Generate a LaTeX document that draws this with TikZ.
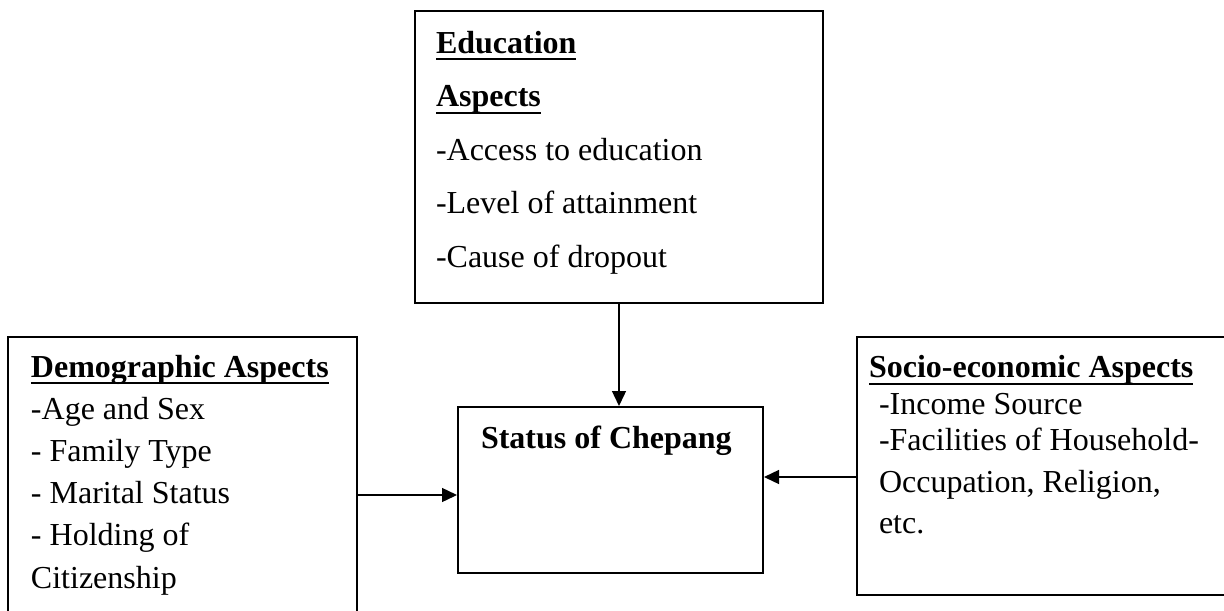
\documentclass[tikz,border=0pt]{standalone}
\usepackage{fontspec}
\setmainfont{Liberation Serif}
\usetikzlibrary{arrows.meta, fit}

\newcommand{\ulhead}[1]{\setbox0\hbox{\bfseries #1}\rlap{\rule[-3.5pt]{\wd0}{1pt}}\box0}

\begin{document}
\begin{tikzpicture}[x=0.5pt, y=-0.5pt, line width=1pt,
  box/.style={draw, inner sep=0pt},
  txt/.style={anchor=base west, align=left, inner sep=0pt, font=\fontsize{16}{#1}\selectfont},
  link/.style={-{Triangle[length=7.5pt,width=7pt]}, line width=0.7pt}]
\useasboundingbox (0,0) rectangle (1224,610);

\node[box, fit={(415,11) (823,303)}] (edu) {};
\node[box, fit={(458,407) (763,573)}] (status) {};
\node[box, fit={(8,337) (357,616)}] (demo) {};
\node[box, fit={(857,337) (1232,595)}] (socio) {};

\node[txt=26.75pt] (edutext) at (435,267) {\ulhead{Education}\\ \ulhead{Aspects}\\
-Access to education\\ -Level of attainment\\ -Cause of dropout};
\node[txt=19pt] (statustext) at (480,448) {\bfseries Status of Chepang};
\node[txt=21.1pt] (demotext) at (30,588) {\ulhead{Demographic Aspects}\\ -Age and Sex\\
- Family Type\\ - Marital Status\\ - Holding of\\ Citizenship};
\node[txt=18.25pt] (sociotext) at (868,533) {\ulhead{Socio-economic Aspects}\\
\hspace*{5pt}-Income Source\\ \hspace*{5pt}-Facilities of Household-\\[2.5pt]
\hspace*{5pt}Occupation, Religion,\\[2.25pt] \hspace*{5pt}etc.};

\coordinate (dl) at ([yshift=-2.5pt]status.west);
\coordinate (sr) at ([yshift=6.5pt]status.east);

\path[link] (edu.south) edge (edu.south |- status.north)
      (dl -| demo.east) edge (dl)
      (sr -| socio.west) edge (sr);
\end{tikzpicture}
\end{document}
